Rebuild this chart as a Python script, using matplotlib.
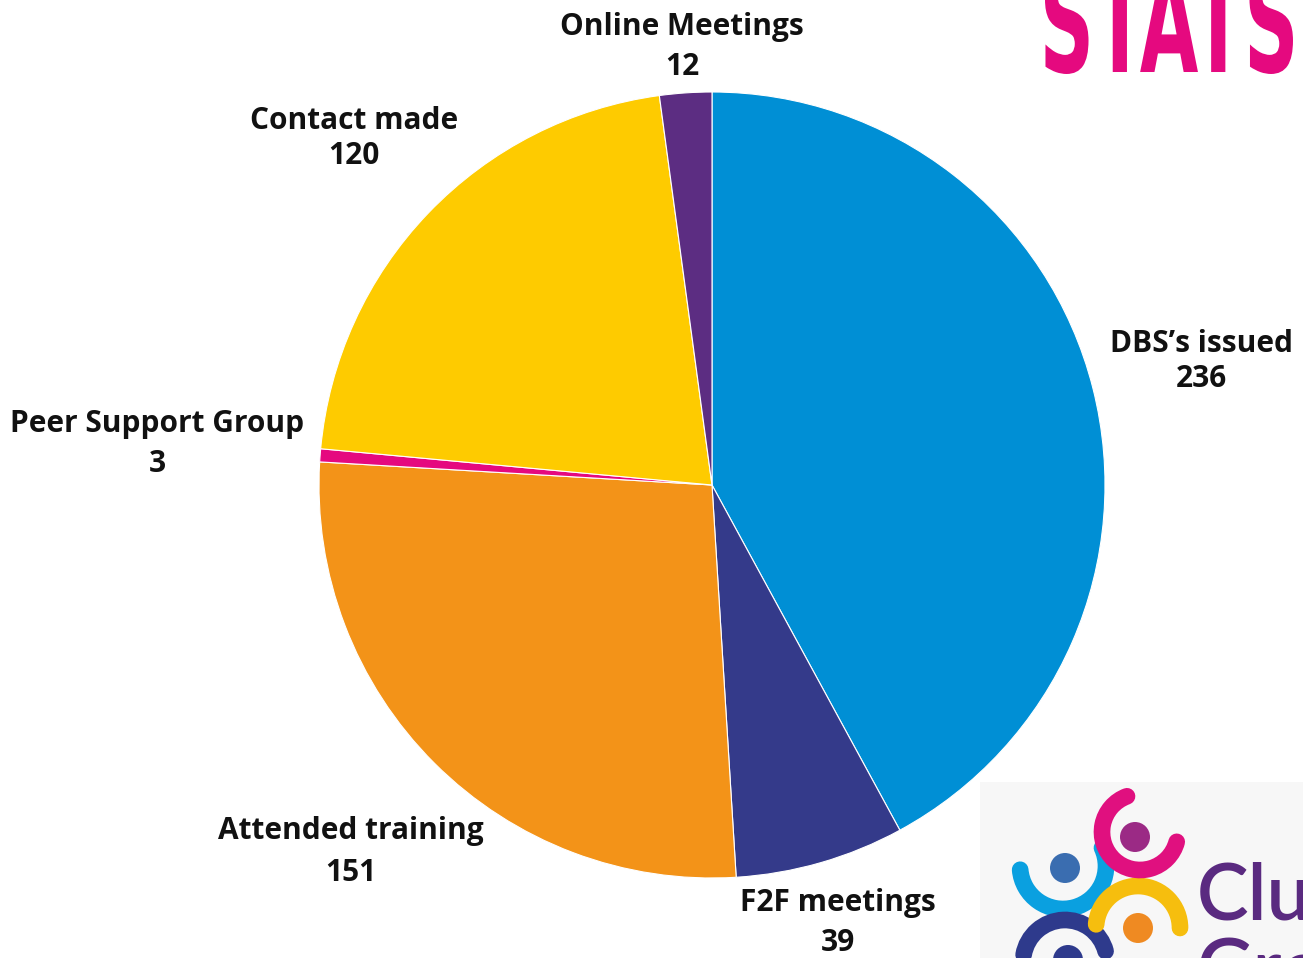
import matplotlib.pyplot as plt
from matplotlib.patches import Arc, Circle, Rectangle, PathPatch
from matplotlib.textpath import TextPath
from matplotlib.font_manager import FontProperties
from matplotlib.transforms import Affine2D

labels = ["DBS\u2019s issued", "F2F meetings", "Attended training",
          "Peer Support Group", "Contact made", "Online Meetings"]
values = [236, 39, 151, 3, 120, 12]
colors = ["#008FD5", "#343A8A", "#F39318", "#E5097F", "#FECB00", "#5C2D82"]

# label centres in pixels: x, y of name line, y of value line
label_pos = [(1201, 344, 379), (838, 903, 943), (351, 831, 873),
             (157, 424, 464), (354, 121, 156), (682, 27, 67)]

W, H = 1303, 958
fig = plt.figure(figsize=(W / 100, H / 100), dpi=100)
fig.patch.set_facecolor("white")

# pie axes: centre (712, 485) px, radius 393 px
cx, cy, r = 712, 485, 393
ax = fig.add_axes([(cx - r) / W, (H - cy - r) / H, 2 * r / W, 2 * r / H])
ax.pie(values, colors=colors, startangle=90, counterclock=False,
       wedgeprops=dict(edgecolor="white", linewidth=0.8))
ax.set_xlim(-1, 1)
ax.set_ylim(-1, 1)
ax.set_aspect("equal")
ax.axis("off")

font = dict(family="Open Sans", weight="bold", fontsize=21.5, color="#111111")
for lab, val, (x, y1, y2) in zip(labels, values, label_pos):
    fig.text(x / W, 1 - y1 / H, lab, ha="center", va="center", **font)
    fig.text(x / W, 1 - y2 / H, str(val), ha="center", va="center", **font)

# overlay axes in pixel coords (y up) for the decorations
ov = fig.add_axes([0, 0, 1, 1])
ov.set_xlim(0, W)
ov.set_ylim(0, H)
ov.axis("off")

# STATS heading, cut at the top edge
tp = TextPath((0, 0), "STATS", size=100,
              prop=FontProperties(family="DejaVu Sans", weight="bold"))
bb = tp.get_extents()
x0, x1, y0, y1 = 1045, 1293, H - 74, H + 32
tr = (Affine2D().translate(-bb.x0, -bb.y0)
      .scale((x1 - x0) / bb.width, (y1 - y0) / bb.height)
      .translate(x0, y0))
ov.add_patch(PathPatch(tr.transform_path(tp), color="#E5097F", lw=0))

# logo block
ov.add_patch(Rectangle((980, 0), W - 980, H - 782, color="#F7F7F7", lw=0))


def arc(xc, yc, rad, a0, a1, col):
    ov.add_patch(Arc((xc, H - yc), 2 * rad, 2 * rad, theta1=a0, theta2=a1,
                     color=col, lw=12, capstyle="round"))


def dot(xc, yc, rad, col):
    ov.add_patch(Circle((xc, H - yc), rad, color=col, lw=0))


arc(1063, 866, 43, 185, 385, "#0AA0E0")
arc(1065, 962, 42, 15, 170, "#2E3A8C")
arc(1138, 928, 42, 0, 175, "#F6BE0E")
arc(1140, 832, 38, 110, 345, "#E0107F")
dot(1065, 868, 15, "#3A6DB0")
dot(1135, 837, 15, "#9B2A85")
dot(1138, 928, 15, "#EF8A22")
dot(1068, 960, 15, "#2E3A8C")
ov.text(1197, H - 920, "Clu", fontsize=56, family="Lato", weight="semibold",
        color="#5A2A80", ha="left", va="baseline")
ov.text(1197, H - 995, "Gro", fontsize=56, family="Lato", weight="semibold",
        color="#5A2A80", ha="left", va="baseline")

fig.savefig("out.png", dpi=100)
